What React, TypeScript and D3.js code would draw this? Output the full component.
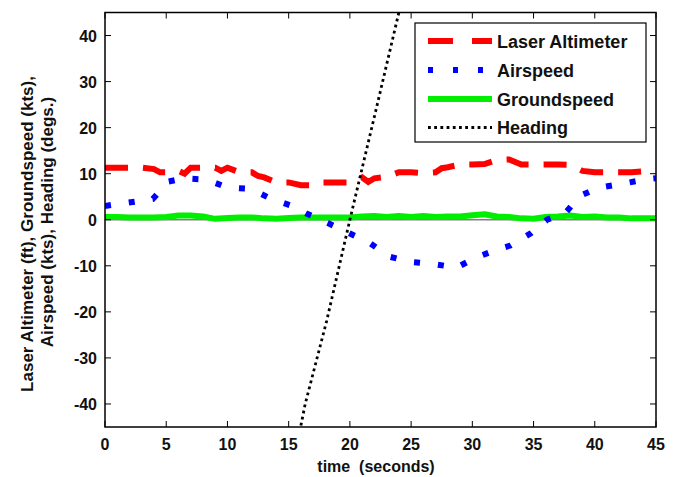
import React from "react";
import * as d3 from "d3";

const W = 675;
const H = 477;

const xTicks = [0, 5, 10, 15, 20, 25, 30, 35, 40, 45];
const yTicks = [-40, -30, -20, -10, 0, 10, 20, 30, 40];

const altT = [0, 1, 2, 3, 4, 4.5, 5, 6, 6.5, 7, 8, 9, 9.5, 10, 11, 12, 12.5, 13, 14, 15, 16, 17, 17.5, 18, 19, 20, 21, 21.5, 22, 23, 24, 25, 26, 27, 27.5, 28, 29, 30, 31, 32, 33, 34, 35, 36, 37, 38, 39, 40, 41, 42, 43, 44, 45];
const altV = [11.3, 11.3, 11.3, 11.3, 11.0, 10.3, 10.3, 10.6, 10.0, 11.3, 11.3, 11.3, 10.6, 11.3, 10.3, 10.3, 9.5, 9.2, 8.1, 8.1, 7.5, 7.5, 8.1, 8.1, 8.1, 8.1, 9.2, 8.2, 9.0, 9.3, 10.3, 10.3, 10.1, 10.3, 11.2, 11.4, 12.0, 12.0, 12.1, 13.0, 13.1, 12.0, 12.0, 12.0, 12.0, 11.9, 10.6, 10.3, 10.3, 10.3, 10.3, 10.5, 10.6];

const airT = [0, 2.1, 3.9, 5.2, 6.5, 8.3, 10, 11.9, 13.6, 15.4, 16.5, 18.2, 20, 21.6, 23.2, 25, 26.8, 28.7, 30.3, 32.1, 33.1, 34.8, 36.1, 37.6, 38.8, 40.4, 42.2, 44.2, 45];
const airV = [3, 3.8, 4.5, 8.3, 9, 8.7, 7, 6.7, 4.5, 2.9, 1.3, -0.7, -3, -5, -8, -9.2, -9.6, -10.4, -8.2, -6.4, -5.6, -2.9, 0, 1.5, 5.2, 7, 7.8, 8.8, 9];

const gndT = d3.range(0, 46);
const gndV = [0.6, 0.6, 0.5, 0.5, 0.5, 0.6, 0.9, 0.9, 0.7, 0.2, 0.4, 0.5, 0.5, 0.3, 0.2, 0.4, 0.5, 0.5, 0.5, 0.5, 0.5, 0.7, 0.8, 0.6, 0.8, 0.6, 0.8, 0.6, 0.7, 0.7, 1.0, 1.2, 0.7, 0.6, 0.3, 0.2, 0.6, 0.7, 0.9, 0.6, 0.7, 0.5, 0.5, 0.3, 0.3, 0.3];

const hdgT = [15.9, 16.35, 18.1, 20.0, 22.1, 24.0, 24.1];
const hdgV = [-46, -40, -22, 0, 23.5, 45, 46];

const legendItems = ["Laser Altimeter", "Airspeed", "Groundspeed", "Heading"];

const FONT = "'Liberation Sans', Arial, sans-serif";

export default function App() {
  const left = 105, right = 656, top = 12.5, bottom = 427;
  const x = d3.scaleLinear().domain([0, 45]).range([left, right]);
  const y = d3.scaleLinear().domain([-45, 45]).range([bottom, top]);

  const mk = (ts: number[], vs: number[]) =>
    d3.line<number>().x((_, i) => x(ts[i])).y((v) => y(v))(vs) || "";

  const styles = [
    { stroke: "#ff0000", width: 6, dash: "23,15" },
    { stroke: "#0000ff", width: 6, dash: "6,18" },
    { stroke: "#00ee00", width: 6, dash: "none" },
    { stroke: "#000000", width: 2.8, dash: "2.8,3.4" },
  ];

  const lx0 = 428, lx1 = 492;
  const rowY = [41, 70, 99, 127.5];

  return (
    <svg width={W} height={H} style={{ position: "absolute", left: 0, top: 0, background: "#fff" }} fontFamily={FONT}>
      <defs>
        <clipPath id="plotclip">
          <rect x={left} y={top} width={right - left} height={bottom - top} />
        </clipPath>
      </defs>
      <rect x={0} y={0} width={W} height={H} fill="#fff" />
      <g clipPath="url(#plotclip)">
        <line x1={left} x2={right} y1={y(0)} y2={y(0)} stroke="#808080" strokeWidth={1.5} />
        <path d={mk(gndT, gndV)} fill="none" stroke={styles[2].stroke} strokeWidth={styles[2].width} strokeLinejoin="round" strokeLinecap="round" />
        <path d={mk(altT, altV)} fill="none" stroke={styles[0].stroke} strokeWidth={styles[0].width} strokeDasharray={styles[0].dash} />
        <path d={mk(airT, airV)} fill="none" stroke={styles[1].stroke} strokeWidth={styles[1].width} strokeDasharray={styles[1].dash} />
        <path d={mk(hdgT, hdgV)} fill="none" stroke={styles[3].stroke} strokeWidth={styles[3].width} strokeDasharray={styles[3].dash} />
      </g>
      <rect x={left} y={top} width={right - left} height={bottom - top} fill="none" stroke="#000" strokeWidth={1.5} />
      {xTicks.map((t) => (
        <g key={"x" + t}>
          <line x1={x(t)} x2={x(t)} y1={bottom} y2={bottom - 6} stroke="#000" strokeWidth={1} />
          <line x1={x(t)} x2={x(t)} y1={top} y2={top + 6} stroke="#000" strokeWidth={1} />
          <text x={x(t)} y={450} textAnchor="middle" fontSize={16} fontWeight="bold" fill="#111">{t}</text>
        </g>
      ))}
      {yTicks.map((t) => (
        <g key={"y" + t}>
          <line x1={left} x2={left + 6} y1={y(t)} y2={y(t)} stroke="#000" strokeWidth={1} />
          <line x1={right} x2={right - 6} y1={y(t)} y2={y(t)} stroke="#000" strokeWidth={1} />
          <text x={97} y={y(t) + 6} textAnchor="end" fontSize={16} fontWeight="bold" fill="#111">{t}</text>
        </g>
      ))}
      <text x={376} y={472} textAnchor="middle" fontSize={16} fontWeight="bold" fill="#111" style={{ whiteSpace: "pre" }}>
        {"time  (seconds)"}
      </text>
      <text transform="translate(33,234) rotate(-90)" textAnchor="middle" fontSize={17} fontWeight="bold" fill="#111">
        Laser Altimeter (ft), Groundspeed (kts),
      </text>
      <text transform="translate(53,222) rotate(-90)" textAnchor="middle" fontSize={17} fontWeight="bold" fill="#111">
        Airspeed (kts), Heading (degs.)
      </text>
      <rect x={415} y={23} width={231} height={119} fill="#fff" stroke="#000" strokeWidth={1.2} />
      {legendItems.map((name, i) => (
        <g key={name}>
          <line x1={lx0} x2={lx1} y1={rowY[i]} y2={rowY[i]} stroke={styles[i].stroke} strokeWidth={styles[i].width}
            strokeDasharray={i === 0 ? "25,19" : i === 1 ? "5,20" : styles[i].dash} />
          <text x={497} y={rowY[i] + 6.5} fontSize={18} fontWeight="bold" fill="#111">{name}</text>
        </g>
      ))}
    </svg>
  );
}
